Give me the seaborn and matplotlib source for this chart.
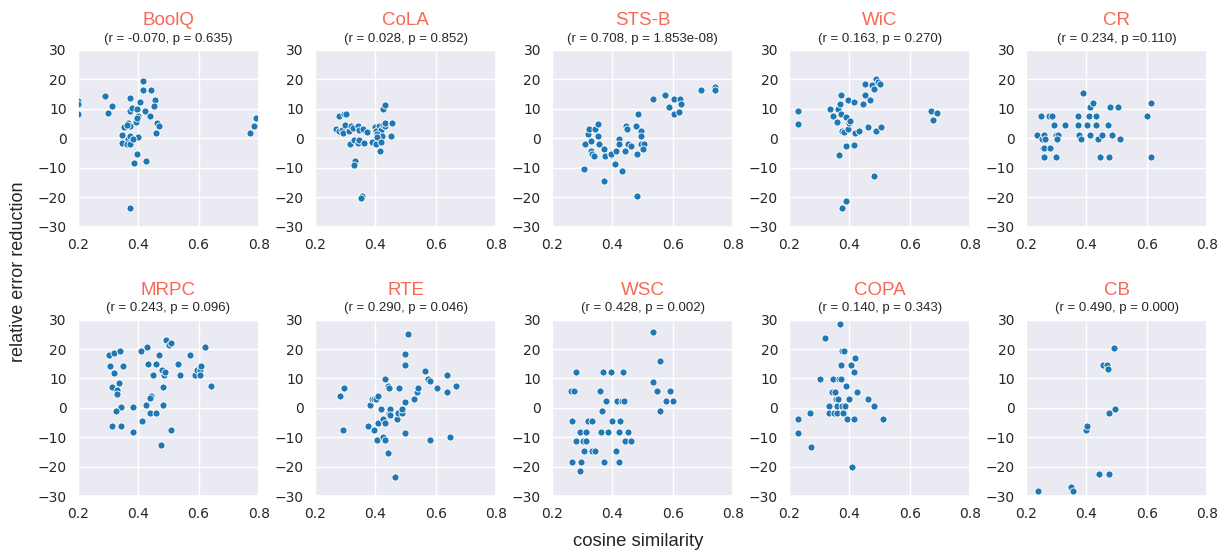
import pandas as pd
import seaborn as sns
import matplotlib.pyplot as plt

# task names and correlation stats
tasks = ["BoolQ", "CoLA", "STS-B", "WiC", "CR", "MRPC", "RTE", "WSC", "COPA", "CB"]
stats = ["(r = -0.070, p = 0.635)", "(r = 0.028, p = 0.852)", "(r = 0.708, p = 1.853e-08)",
         "(r = 0.163, p = 0.270)", "(r = 0.234, p =0.110)", "(r = 0.243, p = 0.096)",
         "(r = 0.290, p = 0.046)", "(r = 0.428, p = 0.002)", "(r = 0.140, p = 0.343)",
         "(r = 0.490, p = 0.000)"]

boolq_x = [0.2, 0.2, 0.2, 0.290, 0.301, 0.313, 0.373, 0.373, 0.378, 0.396, 0.417, 0.414, 0.441,
           0.404, 0.399, 0.421, 0.440, 0.455, 0.451, 0.393, 0.397, 0.462, 0.467, 0.458, 0.399,
           0.367, 0.354, 0.374, 0.363, 0.347, 0.345, 0.366, 0.363, 0.372, 0.372, 0.381, 0.395,
           0.387, 0.424, 0.374, 0.769, 0.784, 0.790]
boolq_y = [12.5, 11.5, 8.1, 14.5, 8.5, 11.1, 13.7, 9.3, 10.4, 10.0, 19.4, 16.3, 16.3,
           12.2, 7.7, 9.3, 7.4, 13.0, 11.1, 5.5, 7.0, 5.1, 4.1, 1.9, 0.4,
           5.1, 3.7, 4.0, 4.5, 1.1, -1.5, -0.3, -1.9, -1.9, 0.6, -0.3, -5.2,
           -8.5, -7.8, -23.8, 1.9, 4.1, 6.8]

cola_x = [0.281, 0.296, 0.302, 0.271, 0.278, 0.289, 0.299, 0.294, 0.311, 0.320, 0.327, 0.344,
          0.347, 0.360, 0.373, 0.316, 0.330, 0.342, 0.346, 0.364, 0.388, 0.402, 0.331, 0.328,
          0.355, 0.353, 0.399, 0.413, 0.403, 0.419, 0.405, 0.422, 0.406, 0.419, 0.417, 0.427,
          0.433, 0.433, 0.427, 0.433, 0.455, 0.452]
cola_y = [7.5, 8.1, 8.1, 3.0, 2.5, 2.8, 4.4, 1.9, 2.6, 4.0, 3.5, 4.0,
          2.8, 3.0, 2.1, -1.9, -0.6, -1.5, -0.6, -1.5, -1.3, -1.9, -7.9, -9.0,
          -19.5, -20.3, 3.7, 4.0, 2.4, 2.8, 1.3, 0.6, 0.3, -1.4, -4.5, 4.5,
          4.3, 5.1, 10.1, 11.3, 5.3, 0.9]

stsb_x = [0.307, 0.310, 0.319, 0.323, 0.330, 0.328, 0.332, 0.339, 0.343, 0.352, 0.353, 0.356,
          0.371, 0.372, 0.377, 0.394, 0.396, 0.407, 0.411, 0.422, 0.422, 0.432, 0.442, 0.445,
          0.448, 0.453, 0.461, 0.479, 0.482, 0.485, 0.496, 0.496, 0.495, 0.504, 0.502, 0.481,
          0.533, 0.573, 0.603, 0.623, 0.588, 0.627, 0.605, 0.622, 0.694, 0.741, 0.741]
stsb_y = [-10.4, -2.1, 1.3, 3.0, -1.1, -4.5, -5.3, -6.2, 3.0, 4.7, 0.6, -2.0,
          -3.7, -14.6, -6.2, -5.7, -5.2, -8.7, -4.5, -0.3, -2.0, -11.3, -4.5, 4.0,
          3.0, -1.9, -2.8, 4.0, -5.3, 8.1, 2.3, 0.6, -1.9, -1.9, -3.7, -19.7,
          13.2, 14.8, 13.2, 13.2, 10.6, 11.5, 8.1, 8.8, 16.5, 17.3, 16.5]

wic_x = [0.229, 0.231, 0.337, 0.347, 0.361, 0.359, 0.370, 0.373, 0.373, 0.374, 0.381, 0.387,
         0.394, 0.396, 0.400, 0.403, 0.364, 0.390, 0.415, 0.417, 0.416, 0.433, 0.444, 0.452,
         0.450, 0.468, 0.462, 0.476, 0.481, 0.488, 0.496, 0.501, 0.489, 0.503, 0.483, 0.387,
         0.376, 0.671, 0.676, 0.691]
wic_y = [9.2, 4.7, 10.0, 7.7, 10.0, 5.5, 11.5, 14.6, 8.3, 2.6, 2.0, 7.1,
         13.0, 3.0, 5.3, 5.9, -5.8, -2.7, -2.2, 1.7, 12.4, 2.5, 11.5, 14.6,
         18.4, 13.0, 3.8, 18.1, 16.9, 20.1, 19.1, 18.4, 2.3, 3.8, -12.9, -21.2,
         -23.7, 9.4, 6.1, 8.5]

cr_x = [0.235, 0.250, 0.252, 0.255, 0.260, 0.261, 0.260, 0.259, 0.276, 0.278, 0.287, 0.291,
        0.300, 0.307, 0.302, 0.300, 0.329, 0.371, 0.371, 0.374, 0.381, 0.388, 0.401, 0.408,
        0.411, 0.410, 0.423, 0.432, 0.433, 0.439, 0.445, 0.453, 0.471, 0.477, 0.476, 0.484,
        0.506, 0.512, 0.600, 0.615, 0.615]
cr_y = [1.2, 7.5, -0.2, -3.3, 1.2, -0.2, -3.3, -6.5, 7.5, -3.3, 7.5, 4.4,
        1.2, 1.2, -0.2, -6.5, 4.4, 7.5, 4.4, 1.2, -0.2, 15.3, 4.4, 7.5,
        10.6, 1.2, 12.1, 7.5, 4.4, -0.2, -6.5, 1.2, 4.4, 10.6, -6.5, 1.2,
        10.6, -0.2, 7.5, 12.1, -6.5]

mrpc_x = [0.304, 0.321, 0.338, 0.305, 0.348, 0.321, 0.312, 0.336, 0.329, 0.331, 0.343, 0.327,
          0.314, 0.341, 0.382, 0.381, 0.410, 0.429, 0.433, 0.413, 0.426, 0.440, 0.443, 0.440,
          0.459, 0.449, 0.459, 0.468, 0.480, 0.486, 0.489, 0.481, 0.482, 0.476, 0.492, 0.502,
          0.509, 0.508, 0.533, 0.538, 0.571, 0.589, 0.595, 0.604, 0.606, 0.607, 0.621, 0.641]
mrpc_y = [17.8, 18.5, 19.2, 14.2, 14.2, 12.0, 7.0, 8.3, 6.2, 4.8, 0.4, -1.1,
          -6.1, -6.1, 0.4, -8.2, 19.2, 20.6, 14.9, -4.6, 1.1, -1.8, 4.0, 3.3,
          -1.8, 11.3, 14.9, 17.8, 12.8, 11.3, 12.2, 7.0, 1.1, -12.6, 22.9, 21.4,
          22.1, -7.5, 14.9, 11.3, 17.8, 11.3, 12.8, 12.8, 11.3, 14.2, 20.6, 7.6]

rte_x = [0.283, 0.297, 0.292, 0.374, 0.383, 0.389, 0.395, 0.403, 0.410, 0.394, 0.407, 0.408,
         0.419, 0.424, 0.424, 0.431, 0.433, 0.433, 0.442, 0.444, 0.444, 0.448, 0.448, 0.443,
         0.464, 0.478, 0.472, 0.475, 0.488, 0.489, 0.497, 0.499, 0.499, 0.499, 0.507, 0.527,
         0.537, 0.541, 0.565, 0.574, 0.581, 0.580, 0.605, 0.636, 0.639, 0.646, 0.668]
rte_y = [4.0, 6.6, -7.4, -6.2, 0.9, 3.1, 3.1, 3.1, 4.0, -7.4, -10.9, -5.1,
         -0.4, -3.9, -9.8, -10.9, -5.1, 9.8, 7.6, 6.6, -1.6, -0.4, -2.5, -15.5,
         -23.5, 6.6, -3.9, -1.6, -1.6, -0.4, 1.9, -8.4, 14.7, 18.2, 25.0, 3.1,
         5.4, 6.6, 12.4, 9.8, 9.0, -10.9, 6.6, 5.4, 11.2, -9.8, 7.6]

wsc_x = [0.264, 0.272, 0.279, 0.266, 0.265, 0.294, 0.280, 0.294, 0.296, 0.302, 0.306, 0.312,
         0.314, 0.320, 0.333, 0.331, 0.343, 0.360, 0.363, 0.366, 0.368, 0.373, 0.378, 0.387,
         0.395, 0.398, 0.411, 0.416, 0.422, 0.425, 0.423, 0.431, 0.440, 0.434, 0.443, 0.453,
         0.463, 0.536, 0.536, 0.548, 0.557, 0.559, 0.579, 0.591, 0.602]
wsc_y = [5.6, 5.6, 12.3, -4.6, -18.3, -8.1, -11.3, -21.5, -18.3, -11.3, -14.8, -11.3,
         -8.1, -4.6, -4.6, -14.8, -14.8, 5.6, -8.1, -1.0, 12.3, -18.3, 2.2, -8.1,
         12.3, -4.6, -14.8, 2.2, -8.1, -4.6, -18.3, 2.2, 2.2, 12.3, -11.3, -8.1,
         -11.3, 25.7, 8.8, 5.6, 15.8, -1.0, 2.2, 5.6, 2.2]

copa_x = [0.229, 0.228, 0.270, 0.273, 0.301, 0.318, 0.331, 0.333, 0.342, 0.347, 0.350, 0.355,
          0.352, 0.360, 0.360, 0.363, 0.365, 0.368, 0.373, 0.374, 0.373, 0.376, 0.381, 0.378,
          0.385, 0.388, 0.393, 0.398, 0.404, 0.408, 0.416, 0.418, 0.416, 0.424, 0.461, 0.480,
          0.512]
copa_y = [-3.9, -8.5, -1.6, -13.2, 9.9, 23.9, 0.6, -1.6, 5.3, 9.9, -1.6, 3.0,
          5.3, -1.6, 0.6, 3.0, 9.9, 28.5, 9.9, 0.6, 14.6, 19.2, 19.2, -1.6,
          0.6, 7.6, -3.9, 3.0, 14.6, -20.1, 12.3, 17.0, -3.9, 5.3, 3.0, 0.6,
          -3.9]

cb_x = [0.238, 0.350, 0.355, 0.399, 0.403, 0.441, 0.476, 0.476, 0.494, 0.456, 0.467, 0.471, 0.490]
cb_y = [-28.2, -26.8, -28.2, -7.4, -6.1, -22.6, -22.6, -1.9, -0.5, 14.7, 14.7, 13.3, 20.3]

xs = [boolq_x, cola_x, stsb_x, wic_x, cr_x, mrpc_x, rte_x, wsc_x, copa_x, cb_x]
ys = [boolq_y, cola_y, stsb_y, wic_y, cr_y, mrpc_y, rte_y, wsc_y, copa_y, cb_y]

sns.set_theme(style="darkgrid")
label_font = ["Liberation Sans", "DejaVu Sans"]

fig, axes = plt.subplots(2, 5, figsize=(12.28, 5.55), dpi=100)
fig.subplots_adjust(left=0.0635, right=0.983, top=0.91, bottom=0.106, wspace=0.31, hspace=0.527)

for ax, name, stat, x, y in zip(axes.flat, tasks, stats, xs, ys):
    df = pd.DataFrame({"cos": x, "rer": y})
    sns.scatterplot(data=df, x="cos", y="rer", ax=ax, color="#1f77b4", s=26,
                    edgecolor="white", linewidth=0.6)
    ax.set_xlim(0.2, 0.8)
    ax.set_ylim(-30, 30)
    ax.set_xticks([0.2, 0.4, 0.6, 0.8])
    ax.set_yticks([-30, -20, -10, 0, 10, 20, 30])
    ax.tick_params(labelsize=10, pad=2)
    ax.set_xlabel("")
    ax.set_ylabel("")
    ax.set_title(stat, fontsize=9.5, family=label_font, pad=6)
    ax.text(0.5, 1.14, name, transform=ax.transAxes, ha="center", va="baseline",
            fontsize=13.5, color="#F96855", family=label_font)

fig.text(0.015, 0.51, "relative error reduction", rotation=90, ha="center", va="center",
         fontsize=13, family=label_font)
fig.text(0.52, 0.024, "cosine similarity", ha="center", va="center",
         fontsize=13.3, family=label_font)

plt.savefig("out.png", dpi=100)
